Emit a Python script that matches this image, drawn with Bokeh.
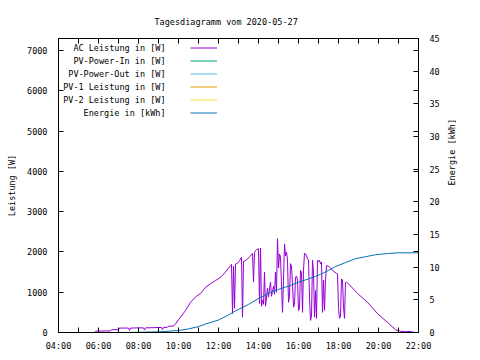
import math
from bokeh.plotting import figure
from bokeh.models import (LinearAxis, Range1d, FixedTicker, Legend, LegendItem,
                          Label)
from bokeh.embed import file_html
from bokeh.resources import INLINE

# ---------------- data ----------------
title_text = "Tagesdiagramm vom 2020-05-27"
hour_ticks = [4, 6, 8, 10, 12, 14, 16, 18, 20, 22]
hour_labels = ["04:00", "06:00", "08:00", "10:00", "12:00", "14:00",
               "16:00", "18:00", "20:00", "22:00"]
power_ticks = [0, 1000, 2000, 3000, 4000, 5000, 6000, 7000]
energy_ticks = [0, 5, 10, 15, 20, 25, 30, 35, 40, 45]

ac_time = ["05:48", "05:51", "06:00", "06:36", "06:39", "07:00", "07:03", "07:30",
           "07:33", "07:36", "08:00", "08:15", "08:18", "08:21", "08:45", "09:00",
           "09:09", "09:12", "09:15", "09:27", "09:30", "09:45", "09:51", "10:06",
           "10:21", "10:36", "10:51", "11:06", "11:21", "11:36", "11:51", "12:06",
           "12:21", "12:36", "12:39", "12:42", "12:45", "12:48", "12:51", "12:57",
           "13:03", "13:09", "13:12", "13:15", "13:24", "13:33", "13:42", "13:45",
           "13:48", "13:54", "14:00", "14:03", "14:06", "14:09", "14:12", "14:15",
           "14:18", "14:21", "14:27", "14:30", "14:36", "14:39", "14:45", "14:48",
           "14:51", "14:54", "14:57", "15:00", "15:03", "15:06", "15:09", "15:12",
           "15:15", "15:18", "15:21", "15:24", "15:27", "15:30", "15:33", "15:36",
           "15:39", "15:42", "15:45", "15:48", "15:51", "15:54", "15:57", "16:00",
           "16:03", "16:06", "16:09", "16:12", "16:15", "16:18", "16:21", "16:24",
           "16:27", "16:30", "16:33", "16:36", "16:39", "16:42", "16:45", "16:48",
           "16:51", "16:54", "16:57", "17:00", "17:03", "17:06", "17:09", "17:12",
           "17:15", "17:18", "17:21", "17:24", "17:30", "17:36", "17:42", "17:48",
           "17:54", "17:57", "18:00", "18:03", "18:06", "18:09", "18:12", "18:15",
           "18:18", "18:21", "18:24", "18:30", "18:57", "19:27", "19:57", "20:27",
           "20:51", "21:06", "21:21", "21:36", "21:45"]
ac_power = [0, 30, 35, 40, 70, 70, 110, 110,
            50, 110, 115, 115, 60, 115, 120, 125,
            125, 70, 125, 130, 155, 160, 215, 380,
            545, 750, 880, 970, 1120, 1210, 1290, 1370,
            1500, 1660, 1690, 470, 1650, 600, 1700, 1720,
            1780, 1870, 380, 1760, 1800, 1880, 1960, 1250,
            1990, 2060, 2080, 720, 2100, 650, 800, 700,
            1500, 650, 1100, 880, 1250, 900, 1150, 950,
            1500, 1000, 2330, 1600, 1950, 1870, 1200, 500,
            1300, 2200, 1900, 2000, 1800, 750, 900, 1710,
            1650, 1200, 630, 700, 1370, 1400, 1300, 545,
            600, 1540, 1500, 500, 1550, 1970, 1950, 1900,
            1830, 1800, 875, 300, 400, 1800, 1500, 380,
            1040, 350, 1790, 1760, 1800, 1700, 1750, 500,
            1300, 550, 1300, 1660, 1650, 1600, 1540, 1500,
            1470, 1460, 600, 350, 400, 1330, 1300, 630,
            350, 1240, 1250, 1210, 970, 750, 470, 250,
            70, 30, 20, 25, 10]

energy_time = ["07:00", "08:00", "09:00", "09:45", "10:00", "10:30", "11:00", "11:21",
               "12:00", "12:30", "12:51", "13:30", "14:00", "14:15", "14:30", "15:00",
               "15:36", "16:00", "16:30", "16:51", "17:06", "17:30", "17:51", "18:21",
               "18:51", "19:21", "19:51", "20:30", "21:00", "22:00"]
energy_kwh = [0, 0.03, 0.1, 0.25, 0.3, 0.55, 0.9, 1.3,
              1.9, 2.7, 3.3, 4.3, 5.2, 5.6, 6.0, 6.6,
              7.2, 7.7, 8.2, 8.6, 8.9, 9.5, 10.1, 10.7,
              11.3, 11.6, 11.9, 12.1, 12.2, 12.2]

# the PV series have no visible values on this day
NAN = float("nan")
pv_in_time, pv_in_power = ["12:00"], [NAN]
pv_out_time, pv_out_power = ["12:00"], [NAN]
pv1_time, pv1_power = ["12:00"], [NAN]
pv2_time, pv2_power = ["12:00"], [NAN]

series_labels = ["AC Leistung in [W]", "PV-Power-In in [W]", "PV-Power-Out in [W]",
                 "PV-1 Leistung in [W]", "PV-2 Leistung in [W]", "Energie in [kWh]"]
series_colors = ["#9400d3", "#009e73", "#56b4e9", "#e69f00", "#f0e442", "#0072b2"]

POWER_MAX = 7300
ENERGY_MAX = 45
FONT = "DejaVu Sans Mono"
FS = "8.5px"


def hours(t):
    h, m = t.split(":")
    return int(h) + int(m) / 60.0


p = figure(width=480, height=360, x_range=(4, 22), y_range=(0, POWER_MAX),
           x_axis_type=None, y_axis_type=None,
           output_backend="svg", toolbar_location=None,
           min_border_left=58, min_border_right=62,
           min_border_top=38, min_border_bottom=28)
p.outline_line_color = "black"
p.outline_line_width = 1
p.background_fill_color = "white"
p.border_fill_color = "white"
p.extra_y_ranges = {"energy": Range1d(0, ENERGY_MAX)}

p.title.text = title_text
p.title.text_font = FONT
p.title.text_font_size = FS
p.title.text_font_style = "normal"
p.title.text_color = "black"
p.title.align = "left"
p.title.offset = 96
p.title.standoff = 24


def style_axis(ax):
    ax.major_label_text_font = FONT
    ax.major_label_text_font_size = FS
    ax.major_label_text_color = "black"
    ax.axis_label_text_font = FONT
    ax.axis_label_text_font_size = FS
    ax.axis_label_text_font_style = "normal"
    ax.axis_label_text_color = "black"
    ax.axis_line_color = "black"
    ax.major_tick_line_color = "black"
    ax.minor_tick_line_color = "black"
    ax.major_tick_out = 0
    ax.minor_tick_out = 0


# bottom axis
xb = LinearAxis(ticker=FixedTicker(ticks=hour_ticks,
                                   minor_ticks=list(range(5, 22, 2))))
xb.major_label_overrides = {t: l for t, l in zip(hour_ticks, hour_labels)}
style_axis(xb)
xb.major_tick_in = 5
xb.minor_tick_in = 5
xb.major_label_standoff = 8
p.add_layout(xb, "below")

# top mirrored ticks
xt = LinearAxis(ticker=FixedTicker(ticks=hour_ticks,
                                   minor_ticks=list(range(5, 22, 2))))
xt.major_label_overrides = {t: "" for t in hour_ticks}
style_axis(xt)
xt.major_tick_in = 5
xt.minor_tick_in = 5
xt.major_label_standoff = 0
xt.major_label_text_font_size = "0px"
p.add_layout(xt, "above")

# left axis
yl = LinearAxis(ticker=FixedTicker(ticks=power_ticks), axis_label="Leistung [W]")
style_axis(yl)
yl.major_tick_in = 5
yl.major_label_standoff = 11
yl.axis_label_standoff = 7
p.add_layout(yl, "left")

# right axis (energy) with mirrored power ticks as minor ticks
mirror = [v * ENERGY_MAX / POWER_MAX for v in power_ticks[1:]]
yr = LinearAxis(y_range_name="energy",
                ticker=FixedTicker(ticks=energy_ticks, minor_ticks=mirror),
                axis_label="Energie [kWh]")
style_axis(yr)
yr.major_tick_in = 5
yr.minor_tick_in = 5
yr.major_label_standoff = 11
yr.axis_label_standoff = 9
yr.axis_label_orientation = math.pi / 2
p.add_layout(yr, "right")

# series
r_ac = p.line([hours(t) for t in ac_time], ac_power, line_color=series_colors[0], line_width=1)
r_in = p.line([hours(t) for t in pv_in_time], pv_in_power, line_color=series_colors[1], line_width=1)
r_out = p.line([hours(t) for t in pv_out_time], pv_out_power, line_color=series_colors[2], line_width=1)
r_p1 = p.line([hours(t) for t in pv1_time], pv1_power, line_color=series_colors[3], line_width=1)
r_p2 = p.line([hours(t) for t in pv2_time], pv2_power, line_color=series_colors[4], line_width=1)
r_en = p.line([hours(t) for t in energy_time], energy_kwh, line_color=series_colors[5],
              line_width=1, y_range_name="energy")
renderers = [r_ac, r_in, r_out, r_p1, r_p2, r_en]

# legend texts, right aligned (gnuplot style), then sample lines on the right
ROW_H = 13
FIRST_ROW = 9.7
FRAME_H = 360 - 38 - 28
for i, lbl in enumerate(series_labels):
    p.add_layout(Label(x=107, y=FRAME_H - FIRST_ROW - i * ROW_H, x_units="screen",
                       y_units="screen", text=lbl, text_align="right",
                       text_baseline="middle", text_font=FONT, text_font_size=FS,
                       text_color="black"))

leg_glyph = Legend(items=[LegendItem(label=" ", renderers=[r]) for r in renderers],
                   location=(132, int(round(FRAME_H - FIRST_ROW + ROW_H / 2 - 6 * ROW_H))),
                   glyph_width=27, label_standoff=0,
                   label_height=ROW_H, glyph_height=ROW_H, spacing=0, padding=0, margin=0,
                   border_line_color=None, background_fill_alpha=0,
                   label_text_font=FONT, label_text_font_size=FS, label_width=0)
p.add_layout(leg_glyph)

open("out.html", "w").write(file_html(p, INLINE))
